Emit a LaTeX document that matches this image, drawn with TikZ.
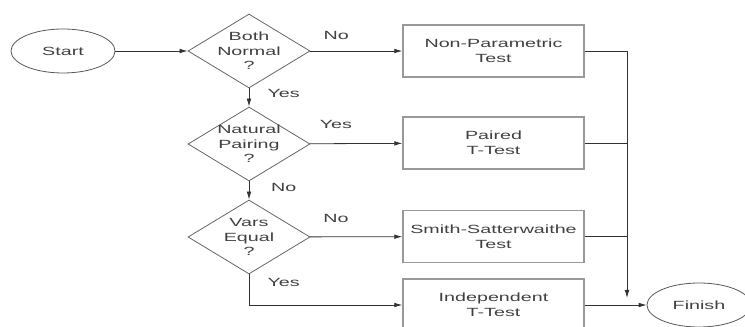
\documentclass[tikz,border=0pt]{standalone}
\usepackage{fontspec}
\setmainfont[FakeStretch=1.66]{Liberation Sans}
\usetikzlibrary{shapes.geometric,arrows.meta}
\begin{document}
\begin{tikzpicture}[x=0.75pt, y=-0.75pt,
    font=\fontsize{8.9}{11}\selectfont, text=black!75,
    terminal/.style={ellipse, draw=black!65, line width=0.6pt, minimum width=78pt, minimum height=33pt, inner sep=0pt},
    decision/.style={diamond, draw=black!60, line width=0.6pt, minimum width=91.5pt, minimum height=55.5pt, inner sep=0pt},
    testbox/.style={rectangle, draw=black!40, line width=1.1pt, minimum width=135.75pt, minimum height=39pt, align=center},
    flow/.style={draw=black!80, line width=0.6pt, -{Latex[length=6pt, width=3.5pt]}}]
  \clip (0,0) rectangle (745,327);
  % Nodes
  \node (start) [terminal] at (63,51) {Start};
  \node (normal) [decision, label={[align=center]center:Both\\Normal\\?}] at (249,51) {};
  \node (pairing) [decision, label={[align=center]center:Natural\\Pairing\\?}] at (249,144) {};
  \node (vars) [decision, label={[align=center]center:Vars\\Equal\\?}] at (249,237) {};
  \node (nonpar) [testbox] at (493.5,51) {Non-Parametric\\Test};
  \node (paired) [testbox] at (493.5,143) {Paired\\T-Test};
  \node (smith) [testbox] at (493.5,236.5) {Smith-Satterwaithe\\Test};
  \node (indep) [testbox] at (493.5,305) {Independent\\T-Test};
  \node (finish) [terminal] at (699,305) {Finish};
  \coordinate (bus) at (627,298);
  % Arrows
  \draw[flow] (start) -- (normal);
  \draw[flow] (normal) -- (nonpar) node[pos=0.28, yshift=12pt] {No};
  \draw[flow] (normal) -- (pairing) node[midway, xshift=26pt, yshift=3pt] {Yes};
  \draw[flow] (pairing) -- (paired) node[pos=0.28, yshift=14pt] {Yes};
  \draw[flow] (pairing) -- (vars) node[midway, xshift=26pt, yshift=2pt] {No};
  \draw[flow] (vars) -- (smith) node[pos=0.28, yshift=14pt] {No};
  \draw[flow] (vars.south) |- (indep.west) node[pos=0.13, xshift=26pt] {Yes};
  \draw[flow] (indep) -- (finish);
  % Bus to Finish
  \draw[flow] (nonpar.east) -| (bus);
  \draw[draw=black!80, line width=0.6pt] (paired.east) -- (paired.east -| bus);
  \draw[draw=black!80, line width=0.6pt] (smith.east) -- (smith.east -| bus);
\end{tikzpicture}
\end{document}
